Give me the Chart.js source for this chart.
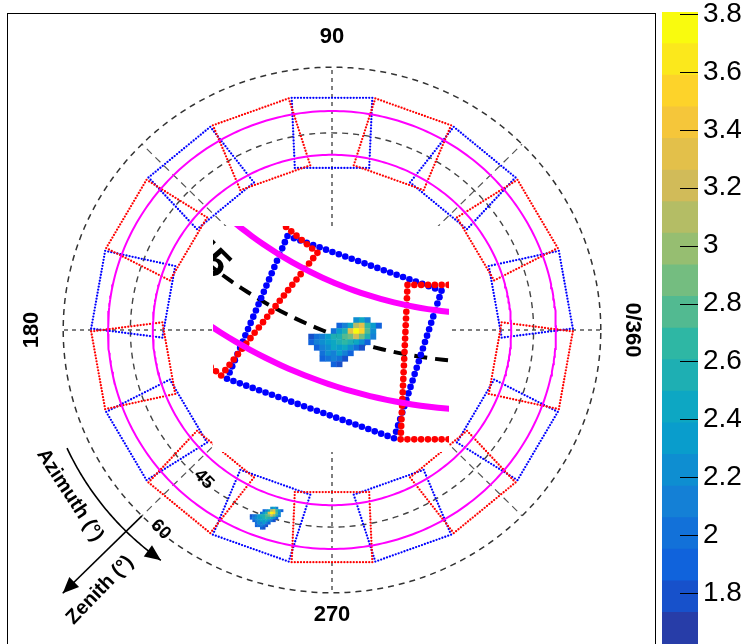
<!DOCTYPE html>
<html>
<head>
<meta charset="utf-8">
<title>Sky map</title>
<script src="https://cdn.jsdelivr.net/npm/chart.js@4.4.1/dist/chart.umd.min.js"></script>
<style>
    html, body { margin: 0; padding: 0; background: #fff; }
    body { position: relative; width: 746px; height: 644px; overflow: hidden; }
    #frame { position: absolute; left: 7px; top: 13px; width: 649px; height: 700px; border: 1px solid #000; box-sizing: border-box; }
    canvas { position: absolute; }
    #sky { left: 0; top: 0; }
    #zoom { left: 213px; top: 226px; background: #fff; }
    #palette { left: 660px; top: 0; }
</style>
</head>
<body>
<div id="frame"></div>
<canvas id="sky" width="746" height="644"></canvas>
<canvas id="zoom" width="236" height="226"></canvas>
<canvas id="palette" width="86" height="644"></canvas>
<script>
(function () {
    "use strict";

    // detector modules, centre azimuth in degrees
    var blueModuleAz = [10, 50, 90, 130, 170, 210, 250, 290, 330];
    var redModuleAz = [30, 70, 110, 150, 190, 230, 270, 310, 350];
    var moduleZenith = [37, 53];        // inner / outer edge
    var moduleHalfWidth = [8.3, 9.0];   // at inner / outer edge

    var ringZenith = [40, 50];
    var gridZenith = [45, 60];
    var gridAxisAz = [0, 90, 180, 270];
    var gridDiagAz = [45, 135, 225, 315];

    var azimuthLabels = ["0/360", "90", "180", "270"];
    var azimuthLabelAz = [0, 90, 180, 270];
    var zenithLabels = ["45", "60"];
    var zenithLabelValues = [45, 60];

    // event map, projected degrees, rows from the top
    var mapX0 = -18.35;
    var mapY0 = -40.35;
    var mapBin = 0.57;
    var mapCounts = [
        [0, 0, 0, 0, 0, 0, 0, 0, 2.2, 2.4, 2.1, 0, 0],
        [0, 0, 0, 0, 0, 1.9, 2.1, 2.4, 3.1, 3.3, 2.7, 2.3, 1.9],
        [0, 0, 0, 0, 2.0, 2.3, 2.5, 3.3, 3.75, 3.5, 2.8, 2.2, 0],
        [1.8, 2.0, 2.1, 2.3, 2.5, 2.6, 2.8, 2.9, 3.2, 2.9, 2.5, 2.1, 0],
        [1.9, 2.1, 2.2, 2.3, 2.4, 2.6, 2.7, 2.6, 2.4, 2.2, 1.9, 0, 0],
        [0, 1.9, 2.1, 2.2, 2.4, 2.3, 2.4, 2.2, 2.0, 1.8, 0, 0, 0],
        [0, 0, 2.0, 2.2, 2.1, 2.3, 2.1, 1.9, 0, 0, 0, 0, 0],
        [0, 0, 1.9, 2.0, 2.1, 2.0, 1.8, 0, 0, 0, 0, 0, 0],
        [0, 0, 0, 0, 1.9, 1.8, 0, 0, 0, 0, 0, 0, 0]
    ];

    var zMin = 1.624;
    var zMax = 3.807;
    var nContours = 20;
    var paletteTickValues = [1.8, 2, 2.2, 2.4, 2.6, 2.8, 3, 3.2, 3.4, 3.6, 3.8];

    // kBird palette
    var birdStops = [0, 0.125, 0.25, 0.375, 0.5, 0.625, 0.75, 0.875, 1];
    var birdR = [0.2082, 0.0592, 0.0780, 0.0232, 0.1802, 0.5301, 0.8186, 0.9956, 0.9764];
    var birdG = [0.1664, 0.3599, 0.5041, 0.6419, 0.7178, 0.7492, 0.7328, 0.7862, 0.9832];
    var birdB = [0.5293, 0.8684, 0.8385, 0.7914, 0.6425, 0.4662, 0.3499, 0.1968, 0.0539];

    var FONT = "'Liberation Sans', Arial, Helvetica, sans-serif";
    var SKY_CENTRE = [332, 330];
    var SKY_PX_PER_DEG = [4.48, 4.38];
    var ZOOM_FACTOR = 2.204;
    var ZOOM_CORNER = [-28, -30.9];
    var DOT_STEP = 0.7;

    function rad(d) { return d * Math.PI / 180; }

    function polar(r, az) {
        return { x: r * Math.cos(rad(az)), y: r * Math.sin(rad(az)) };
    }

    function ring(r) {
        var pts = [];
        for (var a = 0; a <= 360; a++) pts.push(polar(r, a));
        return pts;
    }

    function moduleDots(az) {
        var ux = Math.cos(rad(az)), uy = Math.sin(rad(az));
        var vx = -uy, vy = ux;
        var rIn = moduleZenith[0], rOut = moduleZenith[1];
        var wIn = moduleHalfWidth[0], wOut = moduleHalfWidth[1];
        var corners = [
            [rIn * ux - wIn * vx, rIn * uy - wIn * vy],
            [rOut * ux - wOut * vx, rOut * uy - wOut * vy],
            [rOut * ux + wOut * vx, rOut * uy + wOut * vy],
            [rIn * ux + wIn * vx, rIn * uy + wIn * vy]
        ];
        var pts = [];
        for (var i = 0; i < 4; i++) {
            var p = corners[i], q = corners[(i + 1) % 4];
            var n = Math.max(1, Math.round(Math.hypot(q[0] - p[0], q[1] - p[1]) / DOT_STEP));
            for (var k = 0; k < n; k++) {
                pts.push({ x: p[0] + (q[0] - p[0]) * k / n, y: p[1] + (q[1] - p[1]) * k / n });
            }
        }
        return pts;
    }

    function lineSet(pts, colour, width, dash, order) {
        return {
            data: pts, showLine: true, borderColor: colour, borderWidth: width,
            borderDash: dash, pointRadius: 0, fill: false, order: order
        };
    }

    function dotSet(azimuths, colour, radius, order) {
        var pts = [];
        azimuths.forEach(function (az) { pts = pts.concat(moduleDots(az)); });
        return {
            data: pts, showLine: false, pointRadius: radius, pointBorderWidth: 0,
            pointBackgroundColor: colour, backgroundColor: colour, order: order
        };
    }

    function skyDatasets(zoomed) {
        var sets = [];
        ringZenith.forEach(function (z) {
            sets.push(lineSet(ring(z), "#ff00ff", zoomed ? 6 : 2, [], 1));
        });
        sets.push(dotSet(redModuleAz, "#ff0000", zoomed ? 3.3 : 1.15, 2));
        sets.push(dotSet(blueModuleAz, "#0000ff", zoomed ? 3.3 : 1.15, 3));
        if (zoomed) {
            sets.push(lineSet(ring(gridZenith[0]), "#000", 4, [13, 8], 4));
            return sets;
        }
        sets.push(lineSet(ring(gridZenith[0]), "#444", 1.4, [6, 5], 4));
        sets.push(lineSet(ring(gridZenith[1]), "#333", 1.5, [6, 5], 4));
        gridAxisAz.forEach(function (az) {
            sets.push(lineSet([polar(0, az), polar(gridZenith[1], az)], "#000", 1, [4, 4], 5));
        });
        gridDiagAz.forEach(function (az) {
            sets.push(lineSet([polar(0, az), polar(gridZenith[1], az)], "#555", 1.2, [7, 5], 5));
        });
        return sets;
    }

    function birdColour(t) {
        for (var i = 0; i < birdStops.length - 1; i++) {
            if (t <= birdStops[i + 1]) {
                var f = (t - birdStops[i]) / (birdStops[i + 1] - birdStops[i]);
                var r = birdR[i] + f * (birdR[i + 1] - birdR[i]);
                var g = birdG[i] + f * (birdG[i + 1] - birdG[i]);
                var b = birdB[i] + f * (birdB[i + 1] - birdB[i]);
                return "rgb(" + Math.round(r * 255) + "," + Math.round(g * 255) + "," + Math.round(b * 255) + ")";
            }
        }
        return "rgb(249,251,14)";
    }

    function contourColour(i) {
        return birdColour(Math.floor((i + 0.99) * 255 / nContours) / 254);
    }

    function colourFor(v) {
        var i = Math.floor((v - zMin) / (zMax - zMin) * nContours);
        return contourColour(Math.max(0, Math.min(nContours - 1, i)));
    }

    function clipToArea(ctx, area) {
        ctx.beginPath();
        ctx.rect(area.left, area.top, area.right - area.left, area.bottom - area.top);
        ctx.clip();
    }

    function toPx(chart, p) {
        return [chart.scales.x.getPixelForValue(p.x), chart.scales.y.getPixelForValue(p.y)];
    }

    function textAt(ctx, chart, p, str, rot, font) {
        var px = toPx(chart, p);
        ctx.save();
        ctx.translate(px[0], px[1]);
        ctx.rotate(rad(rot));
        ctx.font = font;
        ctx.fillStyle = "#000";
        ctx.textAlign = "center";
        ctx.textBaseline = "middle";
        ctx.fillText(str, 0, 0);
        ctx.restore();
    }

    function arrowHead(ctx, tip, ang, len, half) {
        var c = Math.cos(ang), s = Math.sin(ang);
        ctx.beginPath();
        ctx.moveTo(tip[0], tip[1]);
        ctx.lineTo(tip[0] - len * c + half * s, tip[1] - len * s - half * c);
        ctx.lineTo(tip[0] - len * c - half * s, tip[1] - len * s + half * c);
        ctx.closePath();
        ctx.fill();
    }

    var countsMapPlugin = {
        id: "countsMap",
        afterDatasetsDraw: function (chart) {
            var ctx = chart.ctx, sx = chart.scales.x, sy = chart.scales.y;
            ctx.save();
            clipToArea(ctx, chart.chartArea);
            mapCounts.forEach(function (row, r) {
                row.forEach(function (v, c) {
                    if (!v) return;
                    var x0 = sx.getPixelForValue(mapX0 + c * mapBin);
                    var x1 = sx.getPixelForValue(mapX0 + (c + 1) * mapBin);
                    var y0 = sy.getPixelForValue(mapY0 - r * mapBin);
                    var y1 = sy.getPixelForValue(mapY0 - (r + 1) * mapBin);
                    ctx.fillStyle = colourFor(v);
                    ctx.fillRect(x0, y0, x1 - x0 + 0.4, y1 - y0 + 0.4);
                });
            });
            ctx.restore();
        }
    };

    var skyTextPlugin = {
        id: "skyText",
        afterDraw: function (chart, args, opts) {
            var ctx = chart.ctx;
            var k = opts.fontScale || 1;
            ctx.save();
            clipToArea(ctx, chart.chartArea);

            zenithLabels.forEach(function (t, i) {
                textAt(ctx, chart, polar(zenithLabelValues[i] - 0.5, 230), t, 45,
                    "bold " + Math.round(18 * k) + "px " + FONT);
            });

            if (opts.decorations) {
                var azRadius = [67, 67, 67, 65];
                var azRot = [90, 0, -90, 0];
                azimuthLabels.forEach(function (t, i) {
                    textAt(ctx, chart, polar(azRadius[i], azimuthLabelAz[i]), t, azRot[i], "bold 22px " + FONT);
                });

                ctx.strokeStyle = "#000";
                ctx.fillStyle = "#000";
                ctx.lineWidth = 1.6;

                // zenith direction arrow
                var a = toPx(chart, polar(60, 225)), b = toPx(chart, polar(85, 225));
                ctx.beginPath();
                ctx.moveTo(a[0], a[1]);
                ctx.lineTo(b[0], b[1]);
                ctx.stroke();
                arrowHead(ctx, b, Math.atan2(b[1] - a[1], b[0] - a[0]), 16, 7);

                // azimuth direction arrow
                var arc = [];
                for (var az = 204.5; az <= 234; az += 0.5) arc.push(toPx(chart, polar(65, az)));
                ctx.beginPath();
                ctx.moveTo(arc[0][0], arc[0][1]);
                arc.forEach(function (p) { ctx.lineTo(p[0], p[1]); });
                ctx.stroke();
                var e = arc[arc.length - 1], d = arc[arc.length - 3];
                arrowHead(ctx, e, Math.atan2(e[1] - d[1], e[0] - d[0]), 16, 7);

                textAt(ctx, chart, polar(69.6, 212.8), "Azimuth (\u00b0)", 57, "bold 20px " + FONT);
                textAt(ctx, chart, polar(78.8, 228.9), "Zenith (\u00b0)", -46, "bold 20px " + FONT);
            }
            ctx.restore();
        }
    };

    function baseOptions(xr, yr, textOpts) {
        return {
            responsive: false,
            animation: false,
            events: [],
            layout: { padding: 0, autoPadding: false },
            plugins: {
                legend: { display: false },
                tooltip: { enabled: false },
                skyText: textOpts
            },
            scales: {
                x: { type: "linear", display: false, min: xr[0], max: xr[1] },
                y: { type: "linear", display: false, min: yr[0], max: yr[1] }
            }
        };
    }

    // full sky
    var skyCanvas = document.getElementById("sky");
    new Chart(skyCanvas, {
        type: "scatter",
        data: { datasets: skyDatasets(false) },
        options: baseOptions(
            [-SKY_CENTRE[0] / SKY_PX_PER_DEG[0], (skyCanvas.width - SKY_CENTRE[0]) / SKY_PX_PER_DEG[0]],
            [(SKY_CENTRE[1] - skyCanvas.height) / SKY_PX_PER_DEG[1], SKY_CENTRE[1] / SKY_PX_PER_DEG[1]],
            { fontScale: 1, decorations: true }),
        plugins: [countsMapPlugin, skyTextPlugin]
    });

    // magnified inset
    var zoomCanvas = document.getElementById("zoom");
    var zx = SKY_PX_PER_DEG[0] * ZOOM_FACTOR, zy = SKY_PX_PER_DEG[1] * ZOOM_FACTOR;
    new Chart(zoomCanvas, {
        type: "scatter",
        data: { datasets: skyDatasets(true) },
        options: baseOptions(
            [ZOOM_CORNER[0], ZOOM_CORNER[0] + zoomCanvas.width / zx],
            [ZOOM_CORNER[1] - zoomCanvas.height / zy, ZOOM_CORNER[1]],
            { fontScale: ZOOM_FACTOR, decorations: false }),
        plugins: [countsMapPlugin, skyTextPlugin]
    });

    // colour scale
    var dz = (zMax - zMin) / nContours;
    var bands = [];
    for (var i = 0; i < nContours; i++) {
        bands.push({
            data: [[zMin + i * dz, zMin + (i + 1) * dz]],
            backgroundColor: contourColour(i),
            borderWidth: 0,
            barPercentage: 1,
            categoryPercentage: 1,
            grouped: false
        });
    }

    var paletteTickMarks = {
        id: "paletteTickMarks",
        afterDraw: function (chart) {
            var ctx = chart.ctx, sy = chart.scales.y, area = chart.chartArea;
            ctx.save();
            ctx.strokeStyle = "#000";
            ctx.lineWidth = 1;
            paletteTickValues.forEach(function (v) {
                var y = Math.round(sy.getPixelForValue(v)) + 0.5;
                ctx.beginPath();
                ctx.moveTo(area.right - 18, y);
                ctx.lineTo(area.right, y);
                ctx.stroke();
            });
            ctx.restore();
        }
    };

    new Chart(document.getElementById("palette"), {
        type: "bar",
        data: { labels: [""], datasets: bands },
        options: {
            responsive: false,
            animation: false,
            events: [],
            layout: { padding: { left: 2, top: 12, right: 0, bottom: 0 } },
            plugins: { legend: { display: false }, tooltip: { enabled: false } },
            scales: {
                x: { display: false },
                y: {
                    position: "right",
                    min: zMin,
                    max: zMax,
                    afterFit: function (scale) {
                        scale.width = 48;
                        scale.paddingTop = 0;
                        scale.paddingBottom = 0;
                    },
                    afterBuildTicks: function (scale) {
                        scale.ticks = paletteTickValues.map(function (v) { return { value: v }; });
                    },
                    ticks: {
                        color: "#000",
                        padding: 5,
                        font: { family: FONT, size: 28, lineHeight: 0.8 },
                        callback: function (v) { return String(v); }
                    },
                    grid: { drawOnChartArea: false, drawTicks: false },
                    border: { display: false }
                }
            }
        },
        plugins: [paletteTickMarks]
    });
})();
</script>
</body>
</html>
